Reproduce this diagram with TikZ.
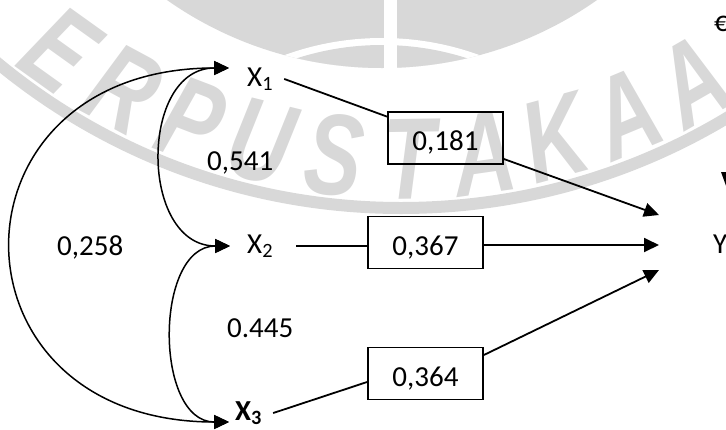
\documentclass[tikz,border=0pt]{standalone}
\usepackage{fontspec}
\setmainfont{Carlito}
\newfontfamily\wmfont{Liberation Sans}
\usetikzlibrary{arrows.meta}
\definecolor{wmgray}{RGB}{216,216,216}
\begin{document}
\begin{tikzpicture}[x=1pt,y=-1pt,
  lbl/.style={inner sep=0pt, anchor=base west, font=\fontsize{29}{34}\selectfont},
  coef/.style={draw, line width=1.8pt, minimum width=115pt, minimum height=52pt,
    inner sep=0pt, text height=25pt, text depth=0pt, font=\fontsize{29}{34}\selectfont},
  link/.style={line width=1.8pt},
  arr/.style={-{Triangle[length=15pt,width=14pt]}},
  corr/.style={line width=1.5pt, {Triangle[length=15pt,width=14pt]}-{Triangle[length=15pt,width=14pt]}},
  wmletter/.style={text=wmgray, inner sep=0pt,
    font=\wmfont\fontsize{116}{116}\selectfont\bfseries\itshape}
]
\path[use as bounding box] (0,0) rectangle (726,429);
\clip (0,0) rectangle (726,429);

% library seal in the background
\fill[wmgray] (382,-306) circle[radius=374pt];
\begin{scope}
  \clip (382,-306) circle[radius=374pt];
  \fill[white] (382,323) circle[radius=285pt];
  \fill[wmgray] (382,323) circle[radius=278pt];
\end{scope}
\fill[white] (384,-2) rectangle (397,75);
\draw[wmgray, line width=12pt] (401,-426) circle[radius=634pt];
\foreach \ch/\ang [count=\i] in {E/-35.6, R/-28.3, P/-21.0, U/-13.8, S/-6.5,
                                 T/0.8, A/8.1, K/15.3, A/22.6, A/29.9}
  \node[wmletter, rotate=\ang, xscale=0.74] (wm\i)
    at ({401+585*sin(\ang)},{-426+585*cos(\ang)}) {\ch};

% variables
\node[lbl] (X1) at (247,86) {X\textsubscript{1}};
\node[lbl] (X2) at (247,253) {X\textsubscript{2}};
\node[lbl] (X3) at (235,420) {\textbf{X\textsubscript{3}}};
\node[lbl] (Y)  at (713,253) {Y};
\node[lbl] (eps) at (714,31) {€};

% correlation labels
\node[lbl] (r12) at (207,170) {0,541};
\node[lbl] (r13) at (57,255) {0,258};
\node[lbl] (r23) at (227,337) {0.445};

% path coefficients
\node[coef] (b1) at (445.5,138) {0,181};
\node[coef] (b2) at (425.5,242.5) {0,367};
\node[coef] (b3) at (425.5,373.5) {0,364};

% arrow ends
\coordinate (x1a) at (229,68);
\coordinate (x2a) at (230,246);
\coordinate (x3a) at (229,422);
\coordinate (yt) at (659,215);
\coordinate (ym) at (659,245);
\coordinate (yb) at (659,270);

% correlations between the X variables
\draw[corr] (x1a) .. controls (-60,68) and (-60,422) .. (x3a);
\draw[corr] (x1a) .. controls (139,68) and (139,246) .. (x2a);
\draw[corr] (x2a) .. controls (154,246) and (154,422) .. (x3a);

% paths to Y
\draw[link] ([xshift=11pt]X1.east) -- (b1);
\draw[link, arr] (b1) -- (yt);
\draw[link] ([xshift=23pt]X2.east) -- (X2.east -| b2.west);
\draw[link, arr] (b2.east |- ym) -- (ym);
\draw[link] ([xshift=11pt]X3.east) -- ([yshift=-8.5pt]b3.west);
\draw[link, arr] ([yshift=18.5pt]b3.east) -- (yb);

% arrowhead coming down from the error term
\fill (721,172) -- (737,172) -- (729,194) -- cycle;
\end{tikzpicture}
\end{document}
